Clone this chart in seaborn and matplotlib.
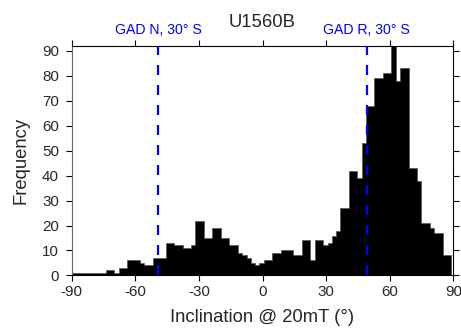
import numpy as np
import pandas as pd
import matplotlib
matplotlib.use("Agg")
import matplotlib.pyplot as plt
import seaborn as sns
from matplotlib.transforms import blended_transform_factory

# Inclination histogram (counts per bin); bins span -90..89 degrees
bin_start = -90.0
bin_stop = 89.0
counts = [
    1, 1, 1, 1, 1, 1, 1, 1, 2, 2,        # -90 .. -70
    1, 3, 3, 6, 6, 6, 5, 4, 4, 7,        # -70 .. -50
    7, 7, 13, 13, 12, 12, 11, 11, 12, 22,  # -50 .. -30
    22, 15, 15, 19, 19, 15, 15, 12, 12, 9,  # -30 .. -10
    8, 7, 5, 4, 5, 6, 6, 9, 9, 10,       # -10 .. 10
    10, 10, 8, 8, 14, 14, 6, 14, 14, 12,  # 10 .. 30
    13, 16, 18, 27, 27, 42, 42, 39, 53, 68,  # 30 .. 50
    68, 79, 79, 81, 81, 92, 78, 83, 83, 43,  # 50 .. 70
    43, 38, 21, 21, 19, 17, 17, 8, 8,     # 70 .. 89
]
edges = np.linspace(bin_start, bin_stop, len(counts) + 1)
centers = (edges[:-1] + edges[1:]) / 2
hist_df = pd.DataFrame({"inclination": centers, "n": counts})

# Geocentric axial dipole inclinations for 30 deg S
gad_inc = [-49.1, 49.1]
gad_labels = ["GAD N, 30° S", "GAD R, 30° S"]

x_ticks = [-90, -60, -30, 0, 30, 60, 90]
y_ticks = list(range(0, 91, 10))

sns.set_style("ticks")
plt.rcParams["font.family"] = ["Liberation Sans", "DejaVu Sans"]
plt.rcParams["axes.unicode_minus"] = False

W, H = 461, 329
fig = plt.figure(figsize=(W / 100, H / 100), dpi=100)
ax_l, ax_r, ax_t, ax_b = 71.7, 453.3, 46.0, 275.4
ax = fig.add_axes([ax_l / W, 1 - ax_b / H, (ax_r - ax_l) / W, (ax_b - ax_t) / H])

sns.histplot(data=hist_df, x="inclination", weights="n", bins=edges.tolist(),
             element="step", fill=True, ax=ax, color="black",
             edgecolor="#555555", linewidth=0.5, alpha=1.0)

for x in gad_inc:
    ax.axvline(x, color="#0000ff", lw=1.6, dashes=(4.5, 4.5), zorder=3)

ax.set_xlim(-90, 90)
ax.set_ylim(0, 92)
ax.set_xticks(x_ticks)
ax.set_xticklabels([str(t) for t in x_ticks])
ax.set_yticks(y_ticks)
ax.set_yticklabels([str(t) for t in y_ticks])
ax.set_xlabel("")
ax.set_ylabel("")

ax.tick_params(axis="both", direction="out", length=4.5, width=0.8,
               color="black", labelsize=10.9, top=True, right=True,
               labeltop=False, labelright=False)
ax.tick_params(axis="x", pad=2.6)
ax.tick_params(axis="y", pad=4.6)
for name, s in ax.spines.items():
    s.set_visible(True)
    s.set_linewidth(0.8)
    s.set_color("#666666" if name == "left" else "black")

ax_h = ax_b - ax_t
trans = blended_transform_factory(ax.transData, ax.transAxes)
for x, lab in zip(gad_inc, gad_labels):
    ax.text(x, 1 + 11.7 / ax_h, lab, transform=trans, ha="center",
            va="baseline", color="#0000ff", fontsize=10.2)

ax.text(0.5, 1 + 19.5 / ax_h, "U1560B", transform=ax.transAxes,
        ha="center", va="baseline", fontsize=13.3)
fig.text(262.5 / W, 1 - 322 / H, "Inclination @ 20mT (°)", ha="center",
         va="baseline", fontsize=13.3)
fig.text(21 / W, 1 - 160 / H, "Frequency", rotation=90, ha="center",
         va="center", fontsize=13.3)

fig.savefig("out.png", dpi=100)
